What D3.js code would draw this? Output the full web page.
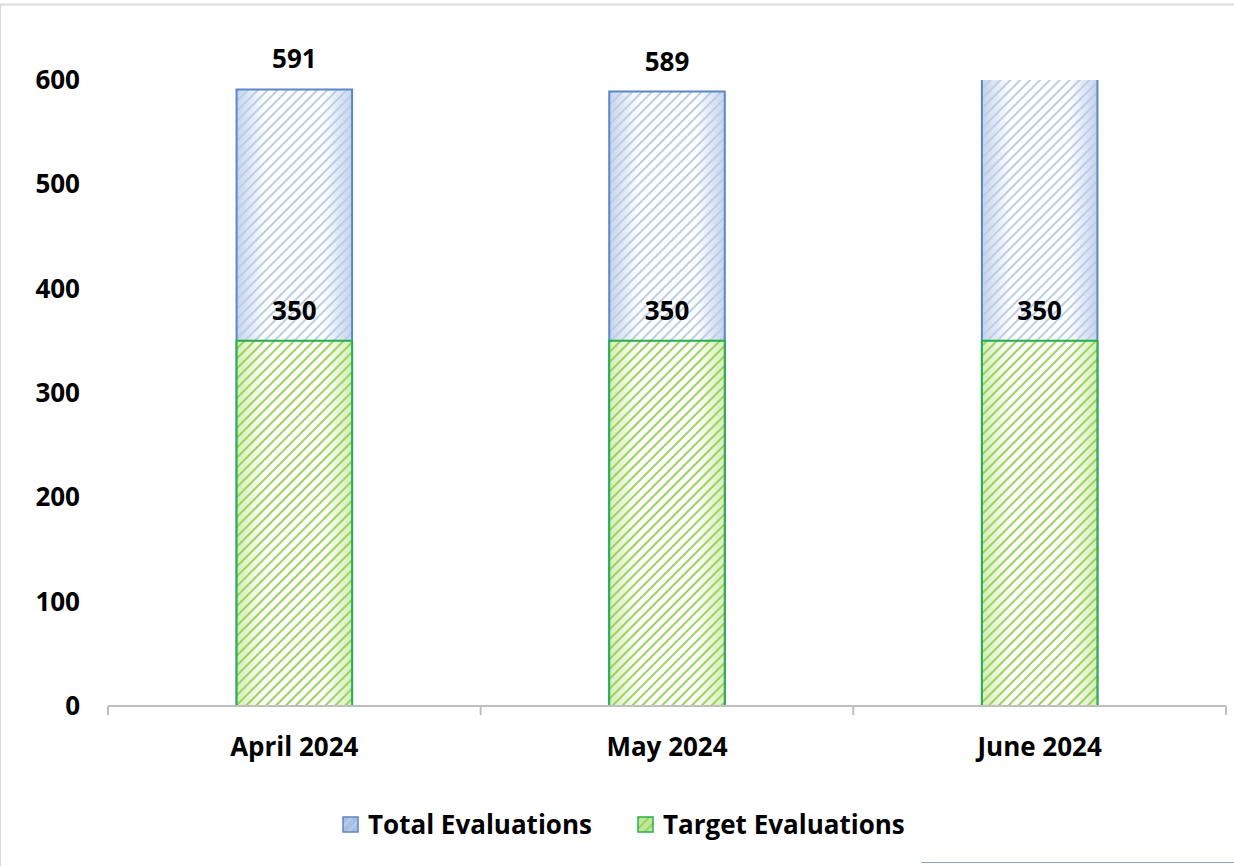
<!DOCTYPE html>
<html>
<head>
<meta charset="utf-8">
<script src="https://cdn.jsdelivr.net/npm/d3@7"></script>
<style>
  body { margin: 0; background: #fff; }
  svg { display: block; font-family: "Open Sans", "Noto Sans", sans-serif; }
</style>
</head>
<body>
<svg id="chart" width="1234" height="866"></svg>
<script>
// ===== data =====
var months = ["April 2024", "May 2024", "June 2024"];
var totalEvals = [591, 589, 620];
var targetEvals = [350, 350, 350];
var yTicks = [0, 100, 200, 300, 400, 500, 600];
var seriesNames = ["Total Evaluations", "Target Evaluations"];

var W = 1234, H = 866, yMax = 600;
var svg = d3.select("#chart");

// frame (top + left only visible)
svg.append("line").attr("x1", 0).attr("x2", W).attr("y1", 4.5).attr("y2", 4.5)
  .attr("stroke", "#d9d9d9").attr("stroke-width", 2);
svg.append("line").attr("x1", 0.5).attr("x2", 0.5).attr("y1", 4).attr("y2", H)
  .attr("stroke", "#d9d9d9").attr("stroke-width", 1);

// hatched fills
var defs = svg.append("defs");
function hatch(id, stripe, edge) {
  var g = defs.append("linearGradient").attr("id", id + "-grad");
  g.append("stop").attr("offset", "0%").attr("stop-color", edge);
  g.append("stop").attr("offset", "25%").attr("stop-color", "#ffffff");
  g.append("stop").attr("offset", "75%").attr("stop-color", "#ffffff");
  g.append("stop").attr("offset", "100%").attr("stop-color", edge);
  var p = defs.append("pattern").attr("id", id).attr("patternUnits", "userSpaceOnUse")
    .attr("width", 7).attr("height", 7).attr("patternTransform", "rotate(45)");
  p.append("rect").attr("width", 2).attr("height", 7).attr("fill", stripe);
}
hatch("hatch-blue", "#bccee7", "#c5d4ec");
hatch("hatch-green", "#9cd35e", "#d6edb8");

var x = d3.scaleBand().domain(months).range([108, 1226]).paddingInner(0.69).paddingOuter(0.345);
var y = d3.scaleLinear().domain([0, yMax]).range([706, 80]);

// y tick labels
svg.append("g").selectAll("text").data(yTicks).join("text")
  .attr("x", 80).attr("y", function(d) { return y(d); }).attr("dy", "0.35em")
  .attr("text-anchor", "end").attr("font-size", 26).attr("font-weight", "bold")
  .attr("fill", "#000").text(function(d) { return d; });

function drawBars(vals, id, stroke) {
  var g = svg.append("g");
  var rows = months.map(function(m, i) { return { m: m, v: Math.min(vals[i], yMax), clip: vals[i] > yMax }; });
  g.selectAll("rect.bg").data(rows).join("rect").attr("class", "bg")
    .attr("x", function(d) { return x(d.m); }).attr("width", x.bandwidth())
    .attr("y", function(d) { return y(d.v); }).attr("height", function(d) { return y(0) - y(d.v); })
    .attr("fill", "url(#" + id + "-grad)");
  g.selectAll("rect.fg").data(rows).join("rect").attr("class", "fg")
    .attr("x", function(d) { return x(d.m); }).attr("width", x.bandwidth())
    .attr("y", function(d) { return y(d.v); }).attr("height", function(d) { return y(0) - y(d.v); })
    .attr("fill", "url(#" + id + ")");
  // outline; bars cut off at the axis max get no top edge
  g.selectAll("path.edge").data(rows).join("path").attr("class", "edge")
    .attr("d", function(d) {
      var x0 = x(d.m), x1 = x0 + x.bandwidth(), yt = y(d.v), yb = y(0);
      return d.clip
        ? "M" + x0 + "," + yt + "V" + yb + "H" + x1 + "V" + yt
        : "M" + x0 + "," + yt + "V" + yb + "H" + x1 + "V" + yt + "Z";
    })
    .attr("fill", "none").attr("stroke", stroke).attr("stroke-width", 2);
}
drawBars(totalEvals, "hatch-blue", "#5b87c5");
drawBars(targetEvals, "hatch-green", "#22b14c");

// value labels
function drawLabels(vals) {
  svg.append("g").selectAll("text").data(vals.map(function(v, i) { return { m: months[i], v: v }; })
      .filter(function(d) { return d.v <= yMax; }))
    .join("text")
    .attr("x", function(d) { return x(d.m) + x.bandwidth() / 2; })
    .attr("y", function(d) { return y(d.v) - 30; }).attr("dy", "0.35em")
    .attr("text-anchor", "middle").attr("font-size", 26).attr("font-weight", "bold")
    .text(function(d) { return d.v; });
}
drawLabels(totalEvals);
drawLabels(targetEvals);

// x axis
var ax = svg.append("g").attr("transform", "translate(0," + y(0) + ")");
ax.append("line").attr("x1", 108).attr("x2", 1226).attr("stroke", "#bfbfbf").attr("stroke-width", 2);
var bounds = d3.range(months.length + 1).map(function(i) { return 108 + i * x.step(); });
ax.selectAll("line.tk").data(bounds).join("line").attr("class", "tk")
  .attr("x1", function(d) { return d; }).attr("x2", function(d) { return d; })
  .attr("y1", 0).attr("y2", 9).attr("stroke", "#bfbfbf").attr("stroke-width", 2);
ax.selectAll("text").data(months).join("text")
  .attr("x", function(d) { return x(d) + x.bandwidth() / 2; }).attr("y", 41).attr("dy", "0.35em")
  .attr("text-anchor", "middle").attr("font-size", 26).attr("font-weight", "bold")
  .text(function(d) { return d; });

// legend
var leg = svg.append("g");
var legItems = [
  { name: seriesNames[0], id: "hatch-blue", base: "#a7bfe3", stroke: "#5b87c5", x: 343 },
  { name: seriesNames[1], id: "hatch-green", base: "#c3e59a", stroke: "#22b14c", x: 638 }
];
legItems.forEach(function(d) {
  leg.append("rect").attr("x", d.x).attr("y", 817).attr("width", 15).attr("height", 15)
    .attr("fill", d.base);
  leg.append("rect").attr("x", d.x).attr("y", 817).attr("width", 15).attr("height", 15)
    .attr("fill", "url(#" + d.id + ")").attr("stroke", d.stroke).attr("stroke-width", 1.5);
  leg.append("text").attr("x", d.x + 25).attr("y", 825).attr("dy", "0.35em")
    .attr("font-size", 26).attr("font-weight", "bold").text(d.name);
});

// stray line bottom-right
svg.append("line").attr("x1", 921).attr("x2", 1234).attr("y1", 862.5).attr("y2", 862.5)
  .attr("stroke", "#8fa3c0").attr("stroke-width", 1);
</script>
</body>
</html>
